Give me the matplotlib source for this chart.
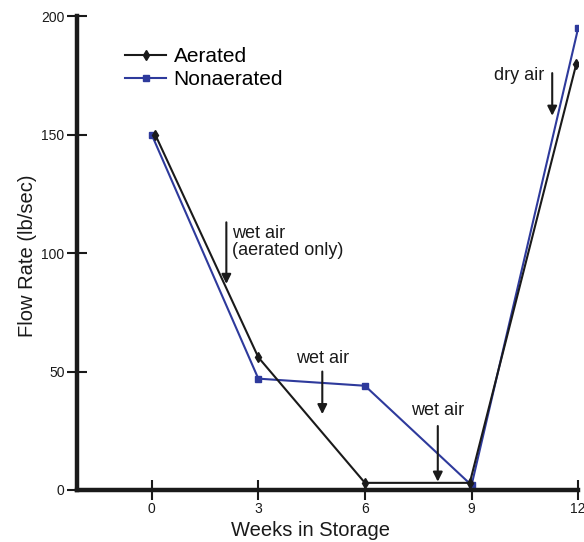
import matplotlib
matplotlib.use("Agg")
import matplotlib.pyplot as plt

plt.rcParams["font.family"] = ["Liberation Sans", "DejaVu Sans"]

# data
weeks = [0, 3, 6, 9, 12]
aerated = [150, 56, 3, 3, 180]
nonaerated = [150, 47, 44, 2, 195]
aerated_weeks = [0.1, 3, 6, 8.95, 11.95]

y_ticks = [0, 50, 100, 150, 200]

# annotations: text, arrow tail (week, value), arrow head (week, value)
notes = [
    ("wet air\n(aerated only)", (2.1, 113), (2.1, 87)),
    ("wet air", (4.8, 50), (4.8, 32)),
    ("wet air", (8.05, 27), (8.05, 3.5)),
    ("dry air", (11.27, 176), (11.27, 158)),
]

black = "#1a1a1a"
blue = "#2e3a9c"

fig = plt.figure(figsize=(5.84, 5.42), dpi=100)
ax = fig.add_axes([0.132, 0.096, 0.858, 0.874])

ax.plot(aerated_weeks, aerated, color=black, lw=1.5, marker="d",
        ms=5, label="Aerated", zorder=3)
ax.plot(weeks, nonaerated, color=blue, lw=1.5, marker="s",
        ms=4.5, label="Nonaerated", zorder=2)

for txt, tail, head in notes:
    ax.annotate("", xy=head, xytext=tail,
                arrowprops=dict(arrowstyle="-|>", color=black, lw=1.5,
                                mutation_scale=14, shrinkA=0, shrinkB=0))
ax.text(2.25, 112, notes[0][0], fontsize=13, ha="left", va="top",
        color=black, linespacing=1.0)
ax.text(4.8, 52, notes[1][0], fontsize=13, ha="center", va="bottom",
        color=black)
ax.text(8.05, 30, notes[2][0], fontsize=13, ha="center", va="bottom",
        color=black)
ax.text(11.05, 175, notes[3][0], fontsize=13, ha="right", va="center",
        color=black)

ax.set_xlim(-2.1, 12)
ax.set_ylim(0, 200)
ax.set_xticks(weeks)
ax.set_yticks(y_ticks)
ax.tick_params(direction="inout", length=14, width=1.5, labelsize=10,
               colors=black, pad=2)

for side in ["top", "right"]:
    ax.spines[side].set_visible(False)
for side in ["left", "bottom"]:
    ax.spines[side].set_linewidth(3.2)
    ax.spines[side].set_color(black)

ax.set_xlabel("Weeks in Storage", fontsize=14.5, color=black)
ax.set_ylabel("Flow Rate (lb/sec)", fontsize=14.5, color=black)
ax.xaxis.set_label_coords(0.465, -0.066)
ax.yaxis.set_label_coords(-0.08, 0.494)

ax.legend(loc="upper left", bbox_to_anchor=(0.095, 0.935), frameon=False,
          fontsize=15, handlelength=2.0, handletextpad=0.35,
          labelspacing=0.2, borderpad=0, borderaxespad=0)

fig.savefig("out.png", dpi=100)
